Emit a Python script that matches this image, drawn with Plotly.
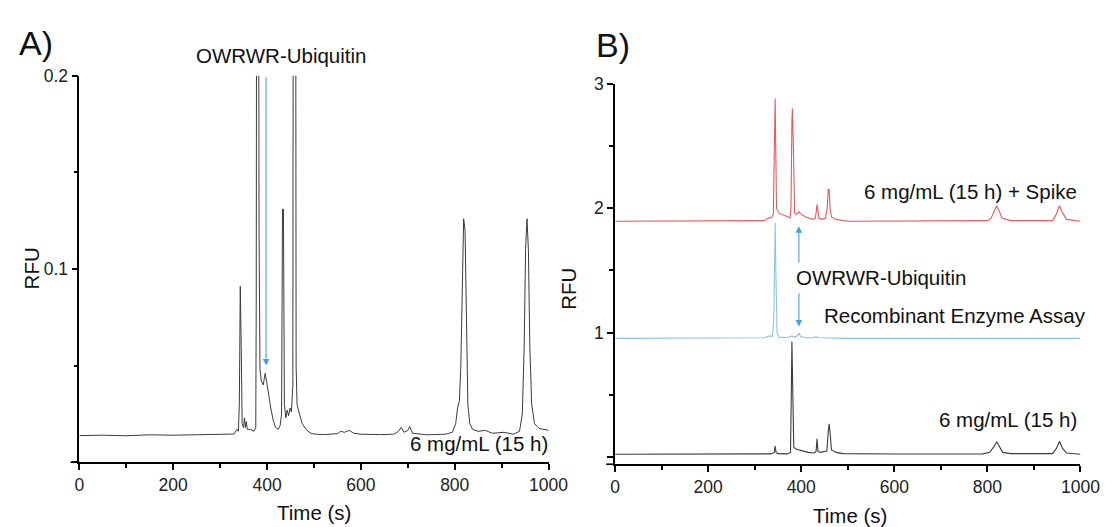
import plotly.graph_objects as go

W, H = 1120, 527

# ---------------- data ----------------
# Panel A: 6 mg/mL (15 h) electropherogram, RFU vs time (s)
a_time = [0, 50, 100, 150, 200, 250, 300, 330, 336, 339, 341, 343, 345, 347, 350, 352, 354, 356, 358,
          365, 372, 376, 377, 378, 382, 383, 385, 388, 392, 396, 399, 403, 408, 413, 418, 424, 428, 431,
          433, 435, 437, 440, 443, 446, 449, 452, 455, 456, 461, 462, 464, 468, 475, 483, 492, 500,
          520, 550, 557, 565, 575, 585, 600, 640, 670, 680, 686, 692, 700, 704, 710, 740, 780, 795,
          802, 806, 810, 813, 816, 819, 822, 825, 828, 832, 838, 850, 865, 880, 905, 925, 938, 944,
          948, 951, 954, 957, 960, 964, 970, 980, 1000]
a_rfu = [0.0138, 0.0140, 0.0137, 0.0142, 0.0140, 0.0143, 0.0143, 0.0146, 0.0170, 0.0160, 0.0300, 0.0910,
         0.0600, 0.0200, 0.0180, 0.0230, 0.0180, 0.0210, 0.0170,
         0.0170, 0.0160, 0.0180, 0.0800, 0.3000, 0.3000, 0.1200, 0.0480, 0.0420, 0.0400, 0.0460, 0.0420,
         0.0350, 0.0280, 0.0220, 0.0180, 0.0170, 0.0190, 0.0250,
         0.1310, 0.1310, 0.0300, 0.0230, 0.0270, 0.0240, 0.0280, 0.0260, 0.0400, 0.3000, 0.3000, 0.0500,
         0.0300, 0.0260, 0.0200, 0.0170, 0.0152, 0.0146,
         0.0143, 0.0148, 0.0160, 0.0155, 0.0165, 0.0150, 0.0145, 0.0143, 0.0145, 0.0160, 0.0180, 0.0155,
         0.0165, 0.0185, 0.0150, 0.0142, 0.0145, 0.0155,
         0.0200, 0.0280, 0.0320, 0.0500, 0.1000, 0.1260, 0.1200, 0.0700, 0.0300, 0.0200, 0.0170, 0.0160,
         0.0165, 0.0150, 0.0155, 0.0145, 0.0160, 0.0250,
         0.0600, 0.1100, 0.1260, 0.1100, 0.0600, 0.0300, 0.0200, 0.0175, 0.0165]

# Panel B: sample (black), recombinant enzyme assay (blue), sample + spike (red)
b_time_sample = [0, 300, 335, 342, 344, 346, 350, 370, 377, 379, 380, 382, 384, 390, 400, 415, 428, 432,
                 434, 436, 440, 455, 458, 460, 462, 465, 475, 490, 600, 790, 805, 815, 820, 825, 833,
                 850, 940, 948, 955, 962, 970, 1000]
b_rfu_sample = [0.025, 0.025, 0.028, 0.040, 0.090, 0.040, 0.030, 0.028, 0.040, 0.600, 0.930, 0.500,
                0.080, 0.065, 0.055, 0.040, 0.035, 0.050, 0.150, 0.050, 0.040, 0.050, 0.200, 0.270,
                0.200, 0.060, 0.040, 0.030, 0.027, 0.028, 0.040, 0.090, 0.126, 0.090, 0.040,
                0.030, 0.030, 0.070, 0.130, 0.070, 0.035, 0.025]

b_time_enzyme = [0, 300, 320, 332, 338, 341, 343, 344, 346, 348, 352, 370, 380, 386, 392, 395, 399,
                 410, 425, 432, 438, 500, 1000]
b_rfu_enzyme = [0.955, 0.955, 0.960, 0.975, 0.970, 1.100, 1.600, 1.880, 1.400, 1.000, 0.965, 0.960,
                0.975, 0.965, 0.975, 0.995, 0.970, 0.960, 0.960, 0.967, 0.960, 0.955, 0.955]

b_time_spike = [0, 300, 320, 330, 336, 340, 342, 344, 345.5, 347, 352, 360, 372, 376, 378, 380, 381,
                382.5, 384, 386, 390, 395, 400, 410, 425, 430, 432, 434, 436, 438, 445, 452, 456, 458,
                460, 462, 465, 475, 500, 700, 800, 808, 815, 820, 825, 832, 850, 940, 948, 955, 962,
                970, 1000]
b_rfu_spike = [1.895, 1.895, 1.900, 1.920, 1.925, 1.950, 2.300, 2.880, 2.400, 2.000, 1.960, 1.950,
               1.930, 1.920, 2.000, 2.700, 2.800, 2.600, 2.100, 1.960, 1.950, 1.970, 1.950, 1.930,
               1.910, 1.920, 1.960, 2.030, 1.980, 1.920, 1.910, 1.920, 2.000, 2.150, 2.150, 2.000,
               1.930, 1.910, 1.895, 1.895, 1.900, 1.920, 1.980, 2.020, 1.980, 1.920, 1.900, 1.900,
               1.950, 2.020, 1.960, 1.910, 1.895]

# OWRWR-Ubiquitin peak markers
a_arrow_time, a_arrow_from, a_arrow_tip = 398, 0.2, 0.05
b_arrow_time = 395
b_up_from, b_up_tip = 1.55, 1.855
b_down_from, b_down_tip = 1.33, 1.05

x_ticks = [0, 200, 400, 600, 800, 1000]
a_y_ticks, a_y_text = [0, 0.1, 0.2], ["", "0.1", "0.2"]
b_y_ticks, b_y_text = [0, 1, 2, 3], ["", "1", "2", "3"]

# ---------------- styling ----------------
FONT = "Liberation Sans, Arial, sans-serif"
BLACK_LINE = "#3c3c3c"
RED = "#e8585c"
BLUE_TRACE = "#8ec3e6"
BLUE_ARROW = "#4a9fd8"


def px(x):
    return x / W


def py(y):
    return 1 - y / H


fig = go.Figure()
fig.add_trace(go.Scatter(x=a_time, y=a_rfu, mode="lines", line=dict(color=BLACK_LINE, width=1),
                         xaxis="x", yaxis="y", hoverinfo="skip"))
fig.add_trace(go.Scatter(x=b_time_sample, y=b_rfu_sample, mode="lines", line=dict(color=BLACK_LINE, width=1.1),
                         xaxis="x2", yaxis="y2", hoverinfo="skip"))
fig.add_trace(go.Scatter(x=b_time_enzyme, y=b_rfu_enzyme, mode="lines", line=dict(color=BLUE_TRACE, width=1.1),
                         xaxis="x2", yaxis="y2", hoverinfo="skip"))
fig.add_trace(go.Scatter(x=b_time_spike, y=b_rfu_spike, mode="lines", line=dict(color=RED, width=1.1),
                         xaxis="x2", yaxis="y2", hoverinfo="skip"))

tickfont = dict(family=FONT, size=17.5, color="#222")
common_x = dict(showline=True, linecolor="black", linewidth=1.6, ticks="outside", ticklen=6,
                tickwidth=1.5, tickcolor="black", showgrid=False, zeroline=False, tickfont=tickfont,
                tickvals=x_ticks, range=[0, 1000],
                minor=dict(ticks="outside", ticklen=4, tickwidth=1.5, tickcolor="black",
                           tickmode="array", tickvals=[100, 300, 500, 700, 900], showgrid=False))
common_y = dict(showline=True, linecolor="black", linewidth=1.6, ticks="outside", ticklen=6,
                tickwidth=1.5, tickcolor="black", showgrid=False, zeroline=False, tickfont=tickfont)

fig.update_layout(
    width=W, height=H, margin=dict(l=0, r=0, t=0, b=0),
    paper_bgcolor="white", plot_bgcolor="white", showlegend=False,
    xaxis=dict(domain=[px(76), px(556)], anchor="y", **common_x),
    yaxis=dict(domain=[py(461), py(67)], anchor="x", range=[0, 0.2], tickvals=a_y_ticks,
               ticktext=a_y_text,
               minor=dict(ticks="outside", ticklen=4, tickwidth=1.5, tickcolor="black",
                          tickmode="array", tickvals=[0.05, 0.15], showgrid=False),
               **common_y),
    xaxis2=dict(domain=[px(624), px(1100)], anchor="y2", **common_x),
    yaxis2=dict(domain=[py(463), py(75)], anchor="x2", range=[-0.055, 3], tickvals=b_y_ticks,
                ticktext=b_y_text,
                minor=dict(ticks="outside", ticklen=4, tickwidth=1.5, tickcolor="black",
                           tickmode="array", tickvals=[0.5, 1.5, 2.5], showgrid=False),
                **common_y),
)

# small axis-crossing extensions (Origin style)
fig.add_shape(type="line", xref="paper", yref="paper", x0=px(67), x1=px(76), y0=py(461), y1=py(461),
              line=dict(color="black", width=1.6))
fig.add_shape(type="line", xref="paper", yref="paper", x0=px(615), x1=px(624), y0=py(463), y1=py(463),
              line=dict(color="black", width=1.6))

ann_font = dict(family=FONT, size=20.5, color="#111")


def text(x, y, s, xanchor="center", size=None, angle=0):
    f = dict(ann_font)
    if size:
        f["size"] = size
    fig.add_annotation(x=px(x), y=py(y), xref="paper", yref="paper", text=s, showarrow=False,
                       xanchor=xanchor, yanchor="middle", font=f, textangle=angle)


text(12, 34, "A)", xanchor="left", size=34)
text(602, 36, "B)", xanchor="left", size=34)
text(282, 46, "OWRWR-Ubiquitin")
text(557, 442, "6 mg/mL (15 h)", xanchor="right")
text(1099, 185, "6 mg/mL (15 h) + Spike", xanchor="right")
text(807, 273, "OWRWR-Ubiquitin", xanchor="left")
text(836, 311, "Recombinant Enzyme Assay", xanchor="left")
text(1099, 417, "6 mg/mL (15 h)", xanchor="right")
text(27, 263, "RFU", angle=-90)
text(576, 284, "RFU", angle=-90)
text(316, 512, "Time (s)")
text(864, 515, "Time (s)")

# arrows pointing at the OWRWR-Ubiquitin peak
arrow = dict(showarrow=True, arrowhead=2, arrowsize=1.2, arrowwidth=1.1, arrowcolor=BLUE_ARROW, text="")
fig.add_annotation(x=a_arrow_time, y=a_arrow_tip, ax=a_arrow_time, ay=a_arrow_from,
                   xref="x", yref="y", axref="x", ayref="y", **arrow)
fig.add_annotation(x=b_arrow_time, y=b_up_tip, ax=b_arrow_time, ay=b_up_from,
                   xref="x2", yref="y2", axref="x2", ayref="y2", **arrow)
fig.add_annotation(x=b_arrow_time, y=b_down_tip, ax=b_arrow_time, ay=b_down_from,
                   xref="x2", yref="y2", axref="x2", ayref="y2", **arrow)

fig.write_html("out.html")
